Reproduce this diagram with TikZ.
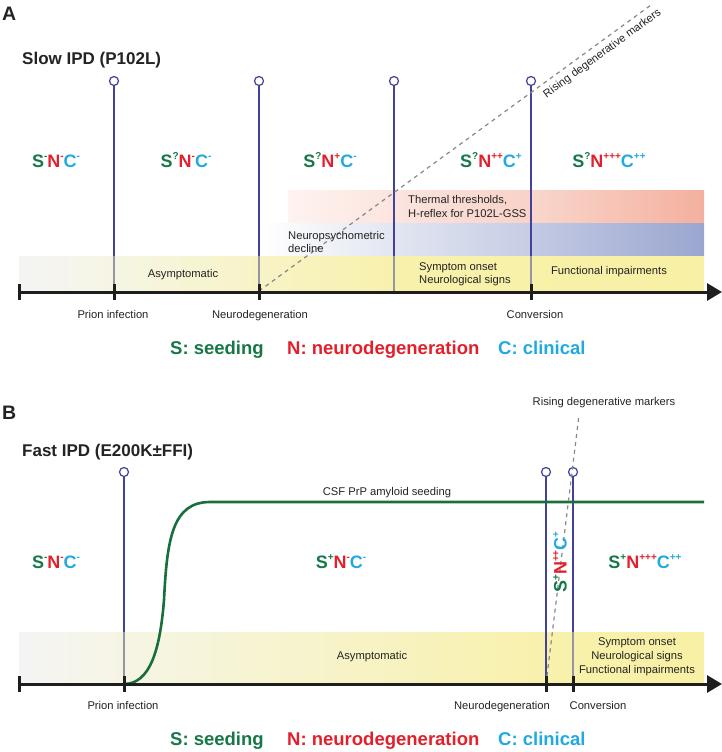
\documentclass[tikz,border=0pt]{standalone}
\usepackage{fontspec}
\setmainfont{Liberation Sans}
\usetikzlibrary{arrows.meta}
\definecolor{sg}{RGB}{22,120,70}
\definecolor{nr}{RGB}{226,32,44}
\definecolor{cc}{RGB}{32,170,224}
\definecolor{vl}{RGB}{66,66,152}
\definecolor{vlg}{RGB}{150,150,162}
\definecolor{axc}{RGB}{30,30,30}
\definecolor{txt}{RGB}{35,35,35}
\definecolor{dsh}{RGB}{135,135,135}
\definecolor{crv}{RGB}{24,110,60}
\definecolor{ygray}{RGB}{244,244,244}
\definecolor{ypale}{RGB}{246,245,228}
\definecolor{ylight}{RGB}{248,243,198}
\definecolor{ymid}{RGB}{248,241,172}
\definecolor{yend}{RGB}{248,240,164}
\definecolor{rpale}{RGB}{254,243,240}
\definecolor{rmid}{RGB}{248,210,200}
\definecolor{rmid2}{RGB}{249,214,204}
\definecolor{rend}{RGB}{244,176,158}
\definecolor{bmid}{RGB}{197,204,228}
\definecolor{bmid2}{RGB}{195,202,228}
\definecolor{bend}{RGB}{155,166,207}
\newcommand\sps[1]{\raisebox{0.42em}{\fontsize{10}{10}\selectfont #1}}
\newcommand\stlab[3]{\textcolor{sg}{S\sps{#1}}\textcolor{nr}{N\sps{#2}}\textcolor{cc}{C\sps{#3}}}
\begin{document}
\begin{tikzpicture}[x=1pt,y=-1pt,
  lbl/.style={font=\fontsize{11.2}{13.5}\selectfont, text=txt, inner sep=0pt},
  state/.style={font=\fontsize{18}{20}\selectfont\bfseries, inner sep=0pt, anchor=base},
  legend/.style={font=\fontsize{18.5}{20}\selectfont\bfseries, inner sep=0pt, anchor=base west},
  ttl/.style={font=\fontsize{17}{20}\selectfont\bfseries, text=txt, inner sep=0pt, anchor=base west},
  panel/.style={font=\fontsize{19.5}{22}\selectfont\bfseries, text=txt, inner sep=0pt, anchor=base west},
  pinc/.style={circle, draw=vl, fill=white, line width=1.2pt, minimum size=9pt, inner sep=0pt},
  vline/.style={vl, line width=1.2pt},
  vgray/.style={vlg, line width=1.2pt},
  axisl/.style={axc, line width=3pt, -{Triangle[length=15pt,width=17pt]}},
  tickm/.style={axc, line width=3pt},
  dashl/.style={dsh, line width=1.2pt, dash pattern=on 4pt off 4pt},
  seedcurve/.style={crv, line width=2.6pt},
]
\useasboundingbox (0,0) rectangle (722,752);

%%%%%%%%%%%%%%%% PANEL A %%%%%%%%%%%%%%%%
\node[panel] (pA) at (2,21) {A};
\node[ttl] (tA) at (22,64) {Slow IPD (P102L)};

% bands
\shade[left color=rpale, right color=rmid] (288,190) rectangle (531,223);
\shade[left color=rmid2, right color=rend] (531,190) rectangle (704,223);
\shade[left color=white, right color=bmid] (260,223) rectangle (531,256);
\shade[left color=bmid2, right color=bend] (531,223) rectangle (704,256);
\shade[left color=ygray, right color=ypale] (19,256) rectangle (114,292);
\shade[left color=ypale, right color=ylight] (114,256) rectangle (259,292);
\shade[left color=ylight, right color=ymid] (259,256) rectangle (394,292);
\shade[left color=ymid, right color=yend] (394,256) rectangle (704,292);

% axis coordinates
\coordinate (a0) at (19,292);
\coordinate (aend) at (722,292);
\foreach \n/\x in {1/114,2/259,3/394,4/531}{
  \node[pinc] (pa\n) at (\x,81) {};
  \coordinate (ba\n) at (\x,256);
  \coordinate (xa\n) at (\x,292);
  \draw[vline] (pa\n.south) -- (ba\n);
  \draw[vgray] (ba\n) -- (xa\n);
}
% dashed marker line
\coordinate (dA0) at (259,291);
\coordinate (dA1) at (651,5);
\draw[dashl] (dA0) -- (dA1) node[pos=0.86, sloped, below=5pt, lbl] (rA) {Rising degenerative markers};

\draw[axisl] (a0) -- (aend);
\foreach \x in {19,114,259,531}{
  \draw[tickm] (\x,284) -- (\x,300);
}

% state labels
\node[state] (sA1) at (56,167) {\stlab{-}{-}{-}};
\node[state] (sA2) at (186,167) {\stlab{?}{-}{-}};
\node[state] (sA3) at (330,167) {\stlab{?}{+}{-}};
\node[state] (sA4) at (491,167) {\stlab{?}{++}{+}};
\node[state] (sA5) at (609,167) {\stlab{?}{+++}{++}};

% band texts
\node[lbl] (asA) at (183,275) {Asymptomatic};
\node[lbl, align=left, anchor=west] (npA) at (288,242) {Neuropsychometric\\decline};
\node[lbl, align=left, anchor=west] (thA) at (408,206.5) {Thermal thresholds,\\H-reflex for P102L-GSS};
\node[lbl, align=left, anchor=west] (soA) at (419,274) {Symptom onset\\Neurological signs};
\node[lbl] (fiA) at (609,272) {Functional impairments};

% axis labels
\node[lbl, anchor=base] (lA1) at (113,318) {Prion infection};
\node[lbl, anchor=base] (lA2) at (260,318) {Neurodegeneration};
\node[lbl, anchor=base] (lA3) at (535,318) {Conversion};

% legend
\node[legend, text=sg] (gA1) at (170,354) {S: seeding};
\node[legend, text=nr] (gA2) at (287,354) {N: neurodegeneration};
\node[legend, text=cc] (gA3) at (498,354) {C: clinical};

%%%%%%%%%%%%%%%% PANEL B %%%%%%%%%%%%%%%%
\node[panel] (pB) at (2,419) {B};
\node[ttl] (tB) at (22,456) {Fast IPD (E200K\textpm FFI)};

\shade[left color=ygray, right color=ypale] (19,632) rectangle (124,684);
\shade[left color=ypale, right color=ymid] (124,632) rectangle (546,684);
\shade[left color=ymid, right color=yend] (546,632) rectangle (704,684);

\coordinate (b0) at (19,684);
\coordinate (bend) at (722,684);
\node[pinc] (pb1) at (124,472) {};
\node[pinc] (pb2) at (546,472) {};
\node[pinc] (pb3) at (573,472) {};
\coordinate (bb1) at (124,632);
\coordinate (bb3) at (573,632);
\coordinate (xb1) at (124,684);
\coordinate (xb2) at (546,684);
\coordinate (xb3) at (573,684);
\draw[vline] (pb1.south) -- (bb1);
\draw[vgray] (bb1) -- (xb1);
\draw[vline] (pb2.south) -- (xb2);
\draw[vline] (pb3.south) -- (bb3);
\draw[vgray] (bb3) -- (xb3);

% seeding curve
\coordinate (cm) at (164,600);
\coordinate (cp) at (210,502);
\coordinate (ce) at (704,502);
\draw[seedcurve] (xb1) .. controls (150,684) and (160,650) .. (cm)
  .. controls (167,540) and (172,502) .. (cp) -- (ce);
\node[lbl] (csf) at (387,493) {CSF PrP amyloid seeding};

% dashed marker line
\coordinate (dB1) at (579,415);
\draw[dashl] (xb2) -- (dB1);
\node[lbl] (rB) at (604,403) {Rising degenerative markers};

\draw[axisl] (b0) -- (bend);
\foreach \x in {19,124,546,573}{
  \draw[tickm] (\x,676) -- (\x,692);
}

% states
\node[state] (sB1) at (56,568) {\stlab{-}{-}{-}};
\node[state] (sB2) at (341,568) {\stlab{+}{-}{-}};
\node[state, rotate=90, anchor=center] (sB3) at (560,562) {\stlab{+}{++}{+}};
\node[state] (sB4) at (645,568) {\stlab{+}{+++}{++}};

% band texts
\node[lbl] (asB) at (372,657) {Asymptomatic};
\node[lbl, align=center, font=\fontsize{11.2}{13.8}\selectfont] (soB) at (637,657) {Symptom onset\\Neurological signs\\Functional impairments};

% axis labels
\node[lbl, anchor=base] (lB1) at (123,709) {Prion infection};
\node[lbl, anchor=base] (lB2) at (502,709) {Neurodegeneration};
\node[lbl, anchor=base] (lB3) at (598,709) {Conversion};

% legend
\node[legend, text=sg] (gB1) at (170,745) {S: seeding};
\node[legend, text=nr] (gB2) at (287,745) {N: neurodegeneration};
\node[legend, text=cc] (gB3) at (498,745) {C: clinical};
\end{tikzpicture}
\end{document}
